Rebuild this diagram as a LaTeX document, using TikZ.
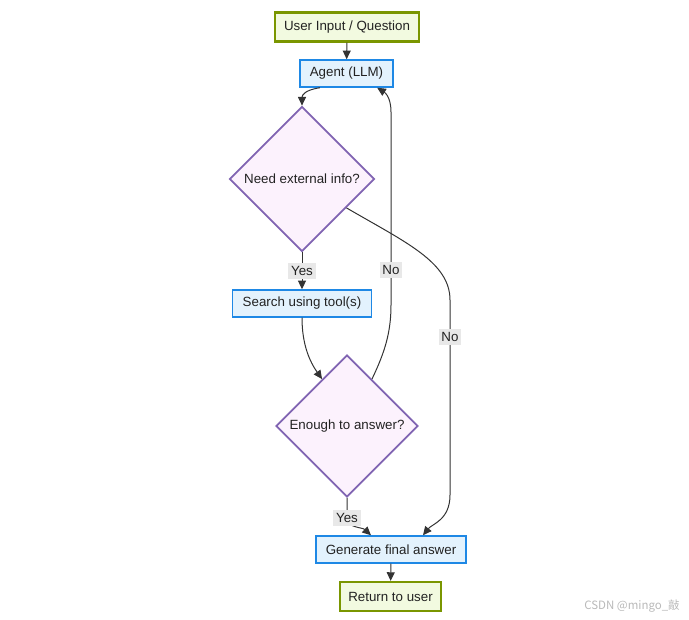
\documentclass[tikz,border=0pt]{standalone}
\usepackage{fontspec}
\setmainfont{Liberation Sans}
\newfontfamily\cjkfont{Noto Sans CJK SC}
\usepackage{tikz}
\usetikzlibrary{arrows.meta,shapes.geometric}
\definecolor{textdark}{RGB}{34,34,34}
\definecolor{linegrey}{RGB}{51,51,51}
\definecolor{olivedge}{RGB}{122,150,0}
\definecolor{olivefill}{RGB}{242,250,224}
\definecolor{bluedge}{RGB}{30,136,229}
\definecolor{bluefill}{RGB}{227,242,253}
\definecolor{violetedge}{RGB}{128,100,178}
\definecolor{violetfill}{RGB}{252,242,253}
\definecolor{labelbg}{RGB}{232,232,232}
\definecolor{markgrey}{RGB}{185,185,185}
\tikzset{
  base/.style={font=\fontsize{10}{12}\selectfont, align=center, text=textdark},
  box/.style={base, rectangle, draw=bluedge, fill=bluefill, line width=1.1pt, minimum height=20.25pt, inner xsep=7.5pt},
  io/.style={box, draw=olivedge, fill=olivefill, line width=1.6pt, minimum height=21.75pt, inner xsep=6.5pt},
  dec/.style={base, diamond, aspect=1, draw=violetedge, fill=violetfill, line width=1.3pt, inner sep=0pt},
  arr/.style={-{Triangle[length=6.5pt,width=6pt]}, line width=0.75pt, draw=linegrey},
  lbl/.style={base, fill=labelbg, inner xsep=2pt, inner ysep=2.5pt},
}

\begin{document}
\begin{tikzpicture}[x=0.75pt,y=-0.75pt]
  \useasboundingbox (0,0) rectangle (689,620);
  % nodes
  \node[io] (inp) at (347,27) {User Input / Question};
  \node[box] (agent) at (346.5,73.5) {Agent (LLM)};
  \node[dec,minimum width=108.75pt,minimum height=108.75pt] (need) at (302,179) {Need external info?};
  \node[box] (search) at (302,303.5) {Search using tool(s)};
  \node[dec,minimum width=106.5pt,minimum height=106.5pt] (enough) at (347,426) {Enough to answer?};
  \node[box] (gen) at (391,549.5) {Generate final answer};
  \node[io] (ret) at (390.5,596.5) {Return to user};
  % edges
  \draw[arr] (inp) -- (agent);
  \draw[arr] ([xshift=-20pt]agent.south) .. controls (305,90) and (302,95) .. (need.north);
  \draw[arr] (need.south) -- node[lbl]{Yes} (search.north);
  \draw[arr] (search.south) .. controls (302,345) and (310,362) .. (enough.118);
  \draw[arr] (enough.62) .. controls (385,352) and (391,332) .. (391,305)
    -- node[lbl,pos=0.18]{No} (391,112) .. controls (391,96) and (384,92) .. ([xshift=23pt]agent.south);
  \draw[arr] (need.-33) .. controls (405,242) and (450,262) .. (450,300)
    -- node[lbl,pos=0.19]{No} (450,495) .. controls (450,520) and (432,524) .. ([xshift=24pt]gen.north);
  \draw[arr] (enough.south) -- node[lbl,pos=1]{Yes} (347,518) .. controls (347,528) and (362,527) .. ([xshift=-15pt]gen.north);
  \draw[arr] (gen) -- (ret);
  % watermark
  \node[font=\cjkfont\fontsize{8.6}{10}\selectfont, text=markgrey] (mark) at (632,606) {CSDN @mingo\_敲};
\end{tikzpicture}
\end{document}
